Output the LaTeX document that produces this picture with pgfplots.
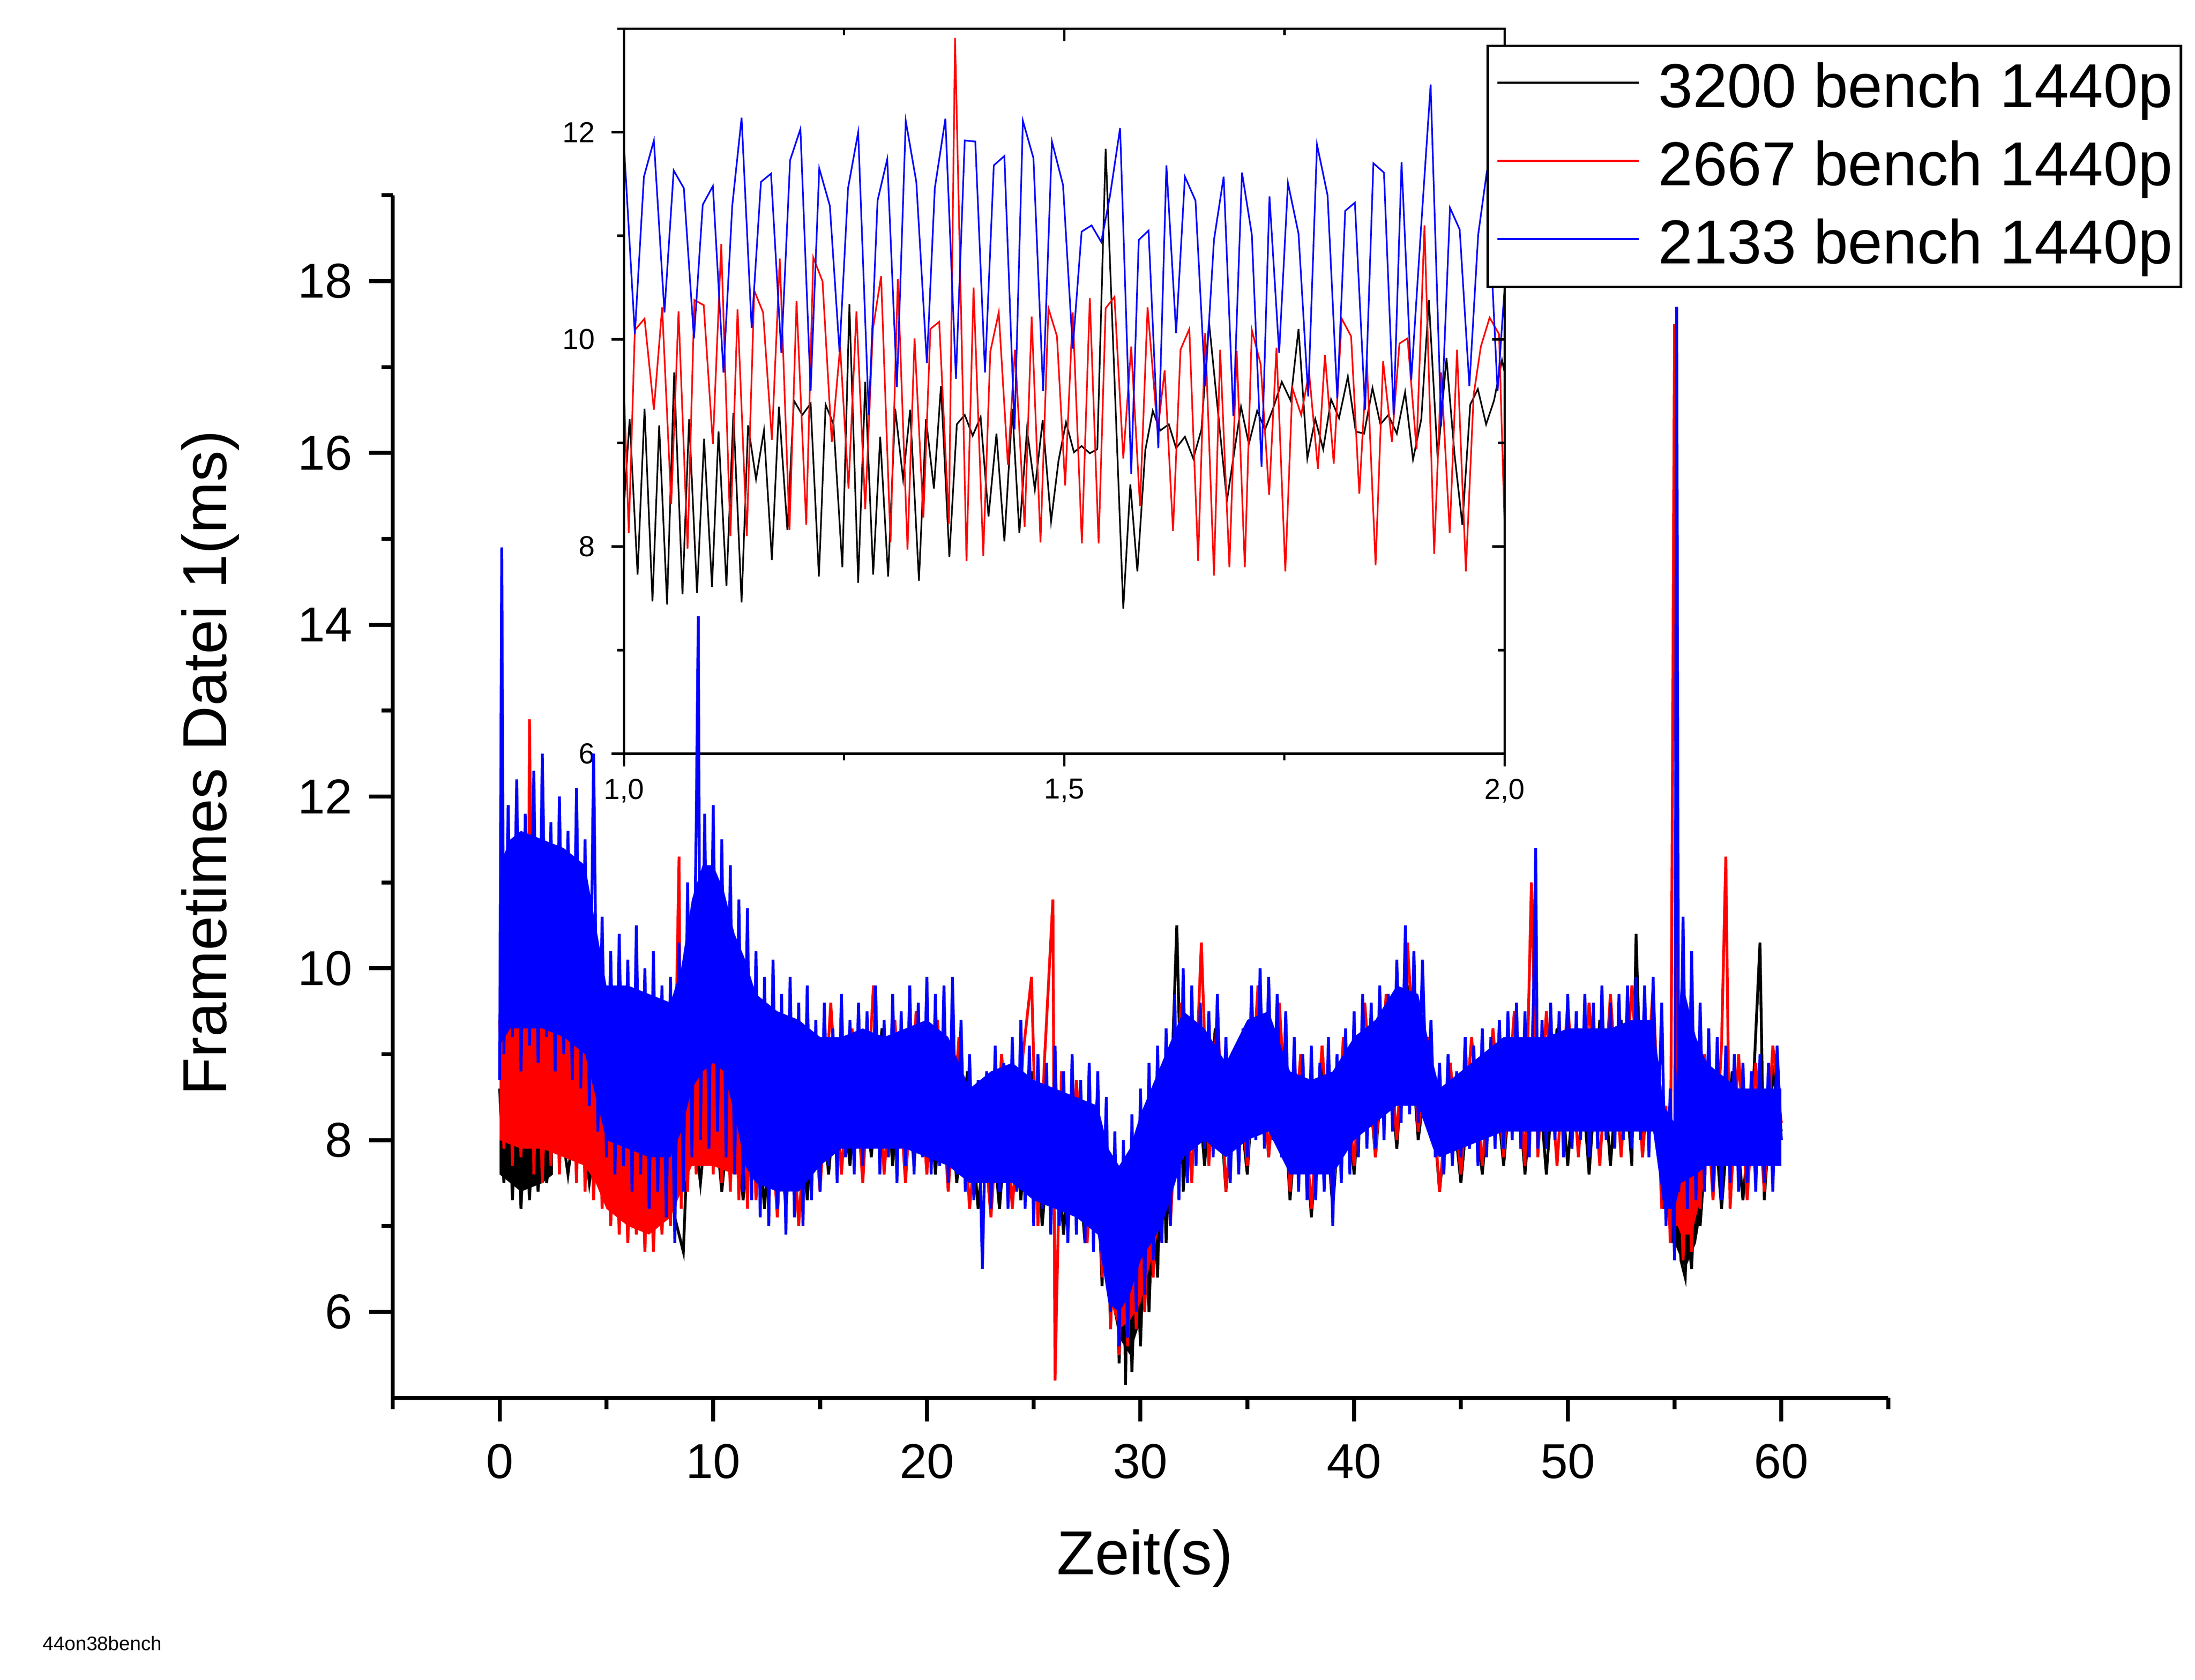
\documentclass[border=0pt]{standalone}
\usepackage{fontspec}
\setmainfont{Liberation Sans}
\usepackage{pgfplots}
\pgfplotsset{compat=1.18}
\begin{document}
\begin{tikzpicture}
\path[use as bounding box] (0,0) rectangle (470.4pt,360pt);

% ---------- inset ----------
\begin{axis}[
  at={(133.71pt,198.48pt)}, anchor=south west,
  width=188.73pt, height=155.4pt, scale only axis,
  xmin=1, xmax=2, ymin=6, ymax=13,
  xtick={1,1.5,2}, minor xtick={1.25,1.75},
  ytick={6,8,10,12}, minor ytick={7,9,11,13},
  xtick pos=left, ytick pos=left,
  tick align=outside,
  major tick length=2.7pt, minor tick length=1.4pt,
  axis line style={line width=0.5pt},
  tick style={line width=0.5pt, black},
  /pgf/number format/assume math mode=true,
  tick label style={font=\fontsize{6.2}{7}\selectfont},
  x tick label style={yshift=0.8pt, /pgf/number format/.cd, use comma, fixed, fixed zerofill, precision=1, /tikz/.cd},
  clip=true,
]
\addplot[black, line width=0.35pt] coordinates {
(1.0,8.39)(1.0065,9.23)(1.0155,7.73)(1.0234,9.33)(1.0324,7.47)(1.040,9.17)(1.049,7.44)(1.057,9.68)(1.0665,7.54)(1.074,9.23)(1.083,7.55)(1.091,9.04)(1.100,7.61)(1.1074,9.11)(1.1164,7.62)(1.1243,9.29)(1.1336,7.46)(1.141,9.17)(1.150,8.65)(1.159,9.12)(1.168,7.87)(1.176,9.35)(1.1856,8.16)(1.193,9.41)(1.2025,9.27)(1.212,9.38)(1.2214,7.71)(1.229,9.37)(1.238,9.18)(1.248,7.80)(1.256,10.34)(1.266,7.65)(1.274,9.59)(1.283,7.73)(1.291,9.06)(1.300,7.71)(1.308,9.33)(1.317,8.65)(1.325,9.32)(1.335,7.67)(1.343,9.23)(1.352,8.56)(1.360,9.55)(1.3695,7.90)(1.378,9.18)(1.387,9.27)(1.396,9.07)(1.405,9.25)(1.414,8.29)(1.423,9.09)(1.432,8.05)(1.441,9.33)(1.449,8.13)(1.4577,9.13)(1.4666,8.55)(1.4755,9.22)(1.485,8.24)(1.4935,8.83)(1.502,9.20)(1.511,8.91)(1.5197,8.97)(1.529,8.90)(1.5375,8.94)(1.547,11.84)(1.567,7.40)(1.575,8.6)(1.583,7.76)(1.592,8.93)(1.6005,9.31)(1.609,9.12)(1.6187,9.18)(1.627,8.95)(1.637,9.06)(1.6465,8.85)(1.6558,9.13)(1.6643,10.17)(1.6847,8.44)(1.7007,9.35)(1.7096,8.99)(1.719,9.31)(1.728,9.13)(1.737,9.33)(1.747,9.59)(1.757,9.41)(1.766,10.10)(1.776,8.85)(1.785,9.23)(1.794,8.94)(1.803,9.42)(1.812,9.24)(1.822,9.64)(1.831,9.11)(1.8405,9.09)(1.850,9.53)(1.859,9.18)(1.868,9.27)(1.8776,9.09)(1.887,9.49)(1.896,8.84)(1.9054,9.23)(1.914,10.38)(1.924,8.85)(1.934,9.82)(1.943,8.90)(1.952,8.21)(1.961,9.37)(1.9696,9.52)(1.979,9.18)(1.988,9.41)(1.997,9.80)(2.0,9.68)
};
\addplot[red, line width=0.35pt] coordinates {
(1.0,9.53)(1.0055,8.13)(1.0124,10.09)(1.0234,10.20)(1.034,9.32)(1.0434,10.31)(1.0537,8.41)(1.062,10.27)(1.0723,7.98)(1.080,10.38)(1.0906,10.33)(1.101,8.99)(1.1105,10.92)(1.1209,8.10)(1.129,10.29)(1.1395,8.10)(1.148,10.47)(1.158,10.26)(1.168,9.03)(1.177,10.78)(1.188,8.16)(1.196,10.37)(1.207,8.21)(1.215,10.79)(1.2255,10.56)(1.236,9.01)(1.2455,9.93)(1.255,8.56)(1.264,10.27)(1.274,8.36)(1.2827,10.10)(1.292,10.61)(1.3027,8.04)(1.311,10.58)(1.322,7.97)(1.330,10.01)(1.340,8.28)(1.348,10.10)(1.358,10.17)(1.369,8.22)(1.376,12.91)(1.389,7.86)(1.397,10.50)(1.408,7.91)(1.416,9.88)(1.4256,10.26)(1.436,8.79)(1.444,9.90)(1.455,8.19)(1.463,10.22)(1.473,8.04)(1.482,10.30)(1.4917,10.03)(1.501,8.59)(1.5096,10.26)(1.520,8.03)(1.529,10.40)(1.539,8.03)(1.547,10.30)(1.557,10.41)(1.567,8.85)(1.576,9.93)(1.586,8.39)(1.5946,10.31)(1.606,9.11)(1.614,9.70)(1.6235,8.15)(1.632,9.90)(1.642,10.10)(1.652,7.86)(1.660,10.06)(1.670,7.72)(1.677,9.90)(1.6875,7.80)(1.6958,9.89)(1.705,7.80)(1.713,10.09)(1.723,9.76)(1.7326,8.50)(1.741,9.92)(1.751,7.76)(1.759,9.53)(1.769,9.27)(1.778,9.68)(1.788,8.75)(1.796,9.85)(1.806,8.80)(1.815,10.20)(1.8257,10.03)(1.835,8.51)(1.8435,9.80)(1.8535,7.82)(1.862,9.79)(1.872,9.01)(1.8806,9.96)(1.8898,10.01)(1.900,8.94)(1.909,11.10)(1.920,7.93)(1.928,9.68)(1.9377,8.13)(1.946,9.90)(1.956,7.76)(1.9648,9.46)(1.973,9.93)(1.983,10.21)(1.9937,10.05)(2.0,8.19)
};
\addplot[blue, line width=0.35pt] coordinates {
(1.000,11.88)(1.0124,10.05)(1.0227,11.57)(1.034,11.92)(1.046,10.26)(1.0565,11.63)(1.068,11.46)(1.0795,10.01)(1.0895,11.30)(1.101,11.48)(1.113,9.68)(1.123,11.29)(1.1336,12.14)(1.145,10.11)(1.1556,11.52)(1.167,11.60)(1.1787,9.87)(1.1887,11.73)(1.2004,12.03)(1.212,9.50)(1.2218,11.65)(1.2338,11.29)(1.2448,9.88)(1.2545,11.46)(1.266,12.00)(1.278,9.27)(1.288,11.34)(1.299,11.74)(1.310,9.54)(1.320,12.11)(1.332,11.52)(1.344,9.77)(1.353,11.46)(1.365,12.13)(1.377,9.62)(1.387,11.92)(1.399,11.91)(1.410,9.68)(1.420,11.68)(1.432,11.77)(1.4435,9.13)(1.453,12.11)(1.465,11.75)(1.476,9.50)(1.486,11.91)(1.4986,11.49)(1.5096,9.91)(1.5197,11.04)(1.531,11.10)(1.542,10.94)(1.552,11.39)(1.5634,12.04)(1.576,8.70)(1.5846,10.96)(1.5957,11.05)(1.6068,8.95)(1.616,11.68)(1.627,10.06)(1.637,11.57)(1.649,11.34)(1.660,9.55)(1.670,10.96)(1.681,11.57)(1.692,9.26)(1.7018,11.61)(1.713,11.01)(1.724,8.77)(1.733,11.38)(1.744,9.87)(1.754,11.51)(1.766,11.02)(1.777,9.45)(1.787,11.88)(1.799,11.39)(1.810,9.43)(1.819,11.24)(1.830,11.32)(1.8416,9.32)(1.851,11.70)(1.863,11.61)(1.874,9.27)(1.883,11.71)(1.894,9.61)(1.905,11.06)(1.916,12.46)(1.928,9.16)(1.938,11.27)(1.949,11.06)(1.960,9.55)(1.970,11.01)(1.980,11.63)(1.992,9.50)(2.0,10.5)
};
\end{axis}

% inset: inward ticks on top and right
\begin{axis}[
  at={(133.71pt,198.48pt)}, anchor=south west,
  width=188.73pt, height=155.4pt, scale only axis,
  xmin=1, xmax=2, ymin=6, ymax=13,
  xtick={1,1.5,2}, minor xtick={1.25,1.75},
  ytick={6,8,10,12}, minor ytick={7,9,11,13},
  xtick pos=right, ytick pos=right,
  tick align=inside,
  major tick length=2.7pt, minor tick length=1.4pt,
  axis line style={line width=0.5pt},
  tick style={line width=0.5pt, black},
  xticklabels={}, yticklabels={},
]
\end{axis}

% ---------- main axis ----------
\begin{axis}[
  at={(84.18pt,60.45pt)}, anchor=south west,
  width=320.46pt, height=257.7pt, scale only axis,
  xmin=-5, xmax=65, ymin=5, ymax=19,
  axis lines*=left,
  tick align=outside,
  xtick={0,10,20,30,40,50,60}, minor xtick={-5,5,15,25,35,45,55,65},
  ytick={6,8,10,12,14,16,18}, minor ytick={7,9,11,13,15,17,19},
  major tick length=5.1pt, minor tick length=2.4pt,
  axis line style={line width=0.85pt},
  tick style={line width=0.85pt, black},
  /pgf/number format/assume math mode=true,
  tick label style={font=\fontsize{10.5}{12}\selectfont},
  x tick label style={yshift=-1.3pt},
  xlabel={Zeit(s)}, ylabel={Frametimes Datei 1(ms)},
  label style={font=\fontsize{13.3}{15}\selectfont},
  xlabel style={at={(axis description cs:0.503,-0.1468)}, anchor=base},
  ylabel style={at={(axis description cs:-0.1113,0.528)}, anchor=base},
  legend style={at={(axis description cs:0.7315,1.1251)}, anchor=north west,
    draw=black, line width=0.5pt, fill=white,
    inner xsep=1.8pt, inner ysep=3.5pt, row sep=5.6pt, column sep=4.0pt,
    font=\fontsize{13.3}{15}\selectfont,
    nodes={inner sep=0pt}, cells={anchor=west}},
  legend image code/.code={\draw[#1, line width=0.45pt] (0pt,1.2pt) -- (30.3pt,1.2pt);},
]
% black: dense core (visible parts) and frame-to-frame swing
\addplot[black, fill=black, draw=none, forget plot] coordinates {(0,8.0)(1,7.9)(2,8.0)(2.5,8.0)(2.5,7.6)(2,7.5)(1,7.4)(0,7.6)};
\addplot[black, fill=black, draw=none, forget plot] coordinates {(28.5,7.0)(29,6.6)(29.5,6.3)(30,6.5)(30.5,7.0)(31,7.5)(31,6.9)(30.5,6.4)(30,5.9)(29.5,5.5)(29,5.7)(28.5,6.3)};
\addplot[black, fill=black, draw=none, forget plot] coordinates {(55,7.2)(55.5,7.0)(56,7.4)(56.2,7.6)(56.2,7.1)(56,6.8)(55.5,6.5)(55,6.8)};
\addplot[black, line width=0.6pt] coordinates {
(0,8.6)(0.2,7.5)(0.4,8.7)(0.6,7.3)(0.8,8.5)(1.0,7.2)(1.2,8.3)(1.4,7.3)(1.6,8.4)(1.8,7.4)(2.0,8.2)(2.2,7.5)
(2.7,8.5)(3.2,7.6)(3.7,8.6)(4.2,7.5)(4.7,8.4)(5.2,7.3)(5.7,8.2)(6.2,7.1)(6.7,8.1)(7.2,7.0)(7.7,8.3)(8.2,7.1)(8.6,6.7)(8.9,8.6)(9.4,7.5)(9.9,8.8)(10.4,7.4)(10.9,8.7)(11.4,7.3)(11.9,8.8)(12.4,7.2)(12.9,8.9)(13.4,7.2)(13.9,9.0)(14.4,7.3)(14.9,9.0)(15.4,7.6)(15.9,9.1)(16.4,7.7)(16.9,9.2)(17.4,7.8)(17.9,9.3)(18.4,7.7)(18.9,9.2)(19.4,7.7)(19.9,9.3)(20.4,7.6)(20.9,9.2)(21.4,7.5)(21.9,8.8)(22.4,7.2)(22.9,8.6)(23.4,7.2)(23.9,8.8)(24.4,7.3)(24.9,8.8)(25.4,7.0)(25.9,8.6)(26.4,6.9)(26.9,8.5)(27.4,6.8)(27.9,8.4)
(28.2,6.3)(28.4,7.8)(28.6,5.8)(28.8,7.4)(29.0,5.4)(29.2,7.0)(29.3,5.15)(29.4,6.8)(29.6,5.3)(29.8,6.9)(30.0,5.6)(30.2,7.1)(30.4,6.0)(30.6,7.5)(30.8,6.4)(31.0,8.4)(31.2,6.8)
(31.7,10.5)(32.0,7.4)(32.5,9.3)(33.0,7.7)(33.5,9.3)(34.0,7.4)(34.5,8.8)(35.0,7.6)(35.5,9.6)(36.0,7.8)(36.5,9.4)(37.0,7.3)(37.5,8.9)(38.0,7.1)(38.5,8.9)(39.0,7.2)(39.5,9.0)(40.0,7.6)(40.5,9.3)(41.0,7.8)(41.5,9.4)(42.0,7.9)(42.5,9.8)(43.0,8.0)(43.5,9.0)(44.0,7.4)(44.5,8.7)(45.0,7.5)(45.5,8.9)(46.0,7.6)(46.5,9.0)(47.0,7.7)(47.5,9.2)(48.0,7.6)(48.5,9.2)(49.0,7.6)(49.5,9.3)(50.0,7.7)(50.5,9.3)(51.0,7.6)(51.5,9.4)(52.0,7.7)(52.5,9.4)(53.0,7.7)(53.2,10.4)(53.5,7.8)(54.0,9.5)(54.5,7.2)
(54.7,8.2)(54.9,6.8)(55.1,7.6)(55.3,6.6)(55.5,6.4)(55.6,7.0)(55.8,6.5)(56.0,7.8)(56.2,7.0)
(56.7,8.8)(57.2,7.2)(57.7,8.8)(58.2,7.3)(58.7,8.7)(59.0,10.3)(59.2,7.3)(59.6,8.8)(60.0,8.1)
};
\addlegendentry{3200 bench 1440p}
% red
\addplot[red, fill=red, draw=none, forget plot] coordinates {(0,9.3)(1,9.4)(2,9.4)(3,9.3)(4,9.1)(4.5,8.6)(5,8.1)(6,7.9)(7,7.9)(8,7.9)(8.5,8.4)(9,9.1)(10,9.3)(11,9.0)(11.8,8.4)(11.8,7.6)(11,7.6)(10,7.7)(9,7.7)(8.5,7.4)(8,7.1)(7,6.9)(6,7.0)(5,7.2)(4.5,7.5)(4,7.7)(3,7.8)(2,7.9)(1,7.9)(0,8.0)};
\addplot[red, fill=red, draw=none, forget plot] coordinates {(28,8.0)(28.5,7.3)(29,6.8)(29.5,6.7)(30,6.8)(30.5,7.4)(31,8.0)(31.5,8.5)(31.5,7.4)(31,7.1)(30.5,6.6)(30,6.1)(29.5,5.9)(29,5.8)(28.5,6.2)(28,6.9)};
\addplot[red, fill=red, draw=none, forget plot] coordinates {(54.5,8.2)(55,7.6)(55.3,7.8)(55.8,7.6)(56.2,8.2)(56.5,8.5)(56.5,7.6)(56.2,7.3)(55.8,6.9)(55.3,6.9)(55,7.1)(54.5,7.4)};
\addplot[red, line width=0.6pt] coordinates {
(0,9.4)(0.2,7.9)(0.4,9.6)(0.6,7.7)(0.8,9.9)
(1.0,7.8)(1.2,9.5)(1.3,7.9)(1.4,12.9)(1.6,7.6)(1.8,9.3)
(2.0,7.5)(2.2,9.2)(2.4,7.7)(2.6,9.6)(2.8,7.6)
(3.0,9.4)(3.2,7.8)(3.4,9.1)(3.6,7.5)(3.8,9.5)
(4.0,7.4)(4.2,9.0)(4.4,7.3)(4.6,8.8)(4.8,7.2)
(5.0,8.5)(5.2,7.0)(5.4,8.3)(5.6,6.9)(5.8,8.4)
(6.0,6.8)(6.2,8.1)(6.4,6.9)(6.6,8.3)(6.8,6.7)
(7.0,8.2)(7.2,6.7)(7.4,8.0)(7.6,6.9)(7.8,8.1)
(8.0,7.0)(8.2,8.5)(8.4,11.3)(8.5,7.2)(8.6,8.9)(8.8,7.4)
(9.0,9.3)(9.2,7.6)(9.4,9.5)(9.6,7.7)(9.8,9.2)
(10.0,7.6)(10.2,9.4)(10.4,7.5)(10.6,9.0)(10.8,7.4)
(11.0,9.1)(11.2,7.3)(11.4,9.2)(11.6,7.2)(11.8,9.0)
(12.0,7.3)(12.5,9.1)(13.0,7.1)(13.5,9.2)(14.0,7.0)(14.5,9.0)(15.0,7.4)(15.5,9.6)(16.0,7.6)(16.5,9.3)(17.0,7.5)(17.5,9.8)(18.0,7.6)(18.5,9.4)(19.0,7.5)(19.5,9.5)(20.0,7.6)(20.5,9.4)(21.0,7.4)(21.5,9.2)(22.0,7.2)(22.5,8.6)(23.0,7.1)(23.5,9.0)(24.0,7.2)(24.5,9.0)(24.9,9.9)(25.2,7.0)(25.5,8.9)(25.9,10.8)(26.0,5.2)(26.3,8.8)(26.6,6.9)(27.0,8.7)(27.5,6.8)(28.0,8.6)
(28.2,6.4)(28.4,8.0)(28.6,5.8)(28.8,7.6)(29.0,5.5)(29.2,7.4)(29.4,5.6)(29.6,7.2)(29.8,5.8)(30.0,7.0)(30.2,6.0)(30.4,7.6)(30.6,6.4)(30.8,8.6)(31.0,6.8)(31.2,9.0)(31.4,7.0)
(31.9,9.6)(32.4,7.5)(32.85,10.3)(33.2,7.7)(33.6,9.5)(34.0,7.4)(34.5,9.0)(35.0,7.7)(35.5,9.8)(36.0,7.8)(36.5,9.6)(37.0,7.4)(37.5,9.0)(38.0,7.2)(38.5,9.1)(39.0,7.3)(39.5,9.2)(40.0,7.7)(40.5,9.6)(41.0,7.8)(41.5,9.7)(42.0,8.0)(42.5,10.3)(43.0,8.1)(43.5,9.2)(44.0,7.4)(44.5,8.9)(45.0,7.6)(45.5,9.2)(46.0,7.7)(46.5,9.3)(47.0,7.8)(47.5,9.5)(48.0,7.7)(48.3,11.0)(48.6,7.8)(49.0,9.5)(49.5,7.7)(50.0,9.6)(50.5,7.8)(51.0,9.6)(51.5,7.7)(52.0,9.7)(52.5,7.8)(53.0,9.8)(53.5,7.8)(54.0,9.8)(54.4,7.2)
(54.6,8.4)(54.8,6.8)(55.0,17.5)(55.1,7.0)(55.2,8.2)(55.4,6.6)(55.6,7.9)(55.8,6.7)(56.0,8.4)(56.2,7.2)(56.4,9.0)
(56.8,7.3)(57.2,9.1)(57.4,11.3)(57.6,7.2)(58.0,9.0)(58.4,7.3)(58.8,8.9)(59.2,7.4)(59.6,9.1)(60.0,8.2)
};
\addlegendentry{2667 bench 1440p}
% blue
\addplot[blue, fill=blue, draw=none, forget plot] coordinates {
(0,11.2)(0.5,11.5)(1,11.6)(2,11.5)(3,11.4)(4,11.2)(4.5,10.5)(5,9.8)(6,9.8)(7,9.7)(8,9.6)(8.5,10.0)(9,10.8)(9.5,11.2)(10,11.2)(10.5,10.9)(11,10.4)(11.5,10.1)(12,9.7)(13,9.5)(14,9.4)(15,9.2)(16,9.2)(17,9.3)(18,9.2)(19,9.3)(20,9.4)(21,9.2)(22,8.6)(23,8.8)(24,8.9)(25,8.7)(26,8.6)(27,8.5)(28,8.4)(28.5,7.9)(29,7.7)(29.5,7.9)(30,8.3)(30.5,8.6)(31,8.9)(32,9.5)(33,9.3)(34,8.9)(35,9.4)(36,9.5)(37,8.8)(38,8.7)(39,8.8)(40,9.2)(41,9.4)(42,9.8)(43,9.7)(43.7,8.9)(44,8.6)(45,8.8)(46,9.0)(47,9.2)(48,9.2)(49,9.2)(50,9.3)(51,9.3)(52,9.3)(53,9.4)(54,9.4)(54.5,8.4)(55,8.2)(55.3,9.9)(56,9.2)(56.5,8.9)(57,8.8)(58,8.6)(59,8.6)(60,8.6)
(60,7.7)(59,7.7)(58,7.7)(57,7.7)(56.5,7.7)(56,7.6)(55.3,7.5)(55,7.2)(54.5,7.2)(54,8.1)(53,8.1)(52,8.1)(51,8.1)(50,8.1)(49,8.1)(48,8.1)(47,8.1)(46,8.0)(45,7.9)(44,7.8)(43.7,7.9)(43,8.4)(42,8.4)(41,8.2)(40,8.0)(39,7.6)(38,7.6)(37,7.6)(36,8.1)(35,8.0)(34,7.8)(33,8.0)(32,7.8)(31,7.0)(30.5,6.8)(30,6.6)(29.5,6.2)(29,6.0)(28.5,6.1)(28,6.9)(27,7.1)(26,7.2)(25,7.3)(24,7.5)(23,7.5)(22,7.5)(21,7.7)(20,7.8)(19,7.9)(18,7.9)(17,7.9)(16,7.9)(15,7.7)(14,7.4)(13,7.4)(12,7.5)(11.5,7.7)(11,8.3)(10.5,8.8)(10,8.9)(9.5,8.8)(9,8.6)(8.5,8.1)(8,7.8)(7,7.8)(6,7.9)(5,8.0)(4.5,8.5)(4,9.0)(3,9.2)(2,9.3)(1,9.3)(0.5,9.3)(0,9.1)
};
\addplot[blue, line width=0.6pt] coordinates {
(0,8.7)(0.1,14.9)(0.2,9.0)(0.4,11.9)(0.6,9.2)(0.8,12.2)
(1.0,8.8)(1.2,11.8)(1.4,9.1)(1.6,12.3)(1.8,8.9)
(2.0,12.5)(2.2,9.2)(2.4,11.7)(2.6,8.8)(2.8,12.0)
(3.0,9.0)(3.2,11.6)(3.4,8.7)(3.6,12.1)(3.8,8.6)
(4.0,11.5)(4.2,8.4)(4.4,12.5)(4.6,8.1)(4.8,10.6)
(5.0,7.8)(5.2,10.2)(5.4,7.6)(5.6,10.4)(5.8,7.7)
(6.0,10.1)(6.2,7.4)(6.4,10.5)(6.6,7.6)(6.8,10.0)
(7.0,7.2)(7.2,10.2)(7.4,7.4)(7.6,9.8)(7.8,7.1)
(8.0,9.9)(8.2,6.8)(8.4,10.3)(8.6,7.4)(8.8,11.0)
(9.0,7.8)(9.2,11.6)(9.3,14.1)(9.4,8.0)(9.6,11.8)(9.8,7.9)
(10.0,11.9)(10.2,8.1)(10.4,11.5)(10.6,7.8)(10.8,11.2)
(11.0,7.6)(11.2,10.8)(11.4,7.4)(11.6,10.7)(11.8,7.3)
(12.0,10.2)(12.2,7.1)(12.4,9.9)(12.6,7.0)(12.8,10.1)
(13.0,7.2)(13.2,9.7)(13.4,6.9)(13.6,9.9)(13.8,7.1)
(14.0,9.6)(14.2,7.0)(14.4,9.8)(14.6,7.3)(14.8,9.4)
(15.0,7.4)(15.2,9.6)(15.4,7.7)(15.6,9.3)(15.8,7.5)
(16.0,9.7)(16.2,7.8)(16.4,9.4)(16.6,7.6)(16.8,9.6)
(17.0,7.7)(17.2,9.5)(17.4,7.9)(17.6,9.8)(17.8,7.6)
(18.0,9.4)(18.2,7.8)(18.4,9.7)(18.6,7.5)(18.8,9.5)
(19.0,7.7)(19.2,9.8)(19.4,7.6)(19.6,9.6)(19.8,7.8)
(20.0,9.9)(20.2,7.6)(20.4,9.7)(20.6,7.7)(20.8,9.8)
(21.0,7.5)(21.2,9.9)(21.4,7.6)(21.6,9.4)(21.8,7.4)
(22.0,9.0)(22.2,7.3)(22.4,8.7)(22.6,6.5)(22.8,8.8)
(23.0,7.2)(23.2,9.1)(23.4,7.4)(23.6,8.9)(23.8,7.2)
(24.0,9.2)(24.2,7.4)(24.4,9.4)(24.6,7.2)(24.8,9.1)
(25.0,7.0)(25.2,9.0)(25.4,7.2)(25.6,8.9)(25.8,6.9)
(26.0,9.1)(26.2,7.0)(26.4,8.8)(26.6,6.8)(26.8,9.0)
(27.0,6.9)(27.2,8.7)(27.4,6.8)(27.6,8.9)(27.8,6.7)
(28.0,8.8)(28.2,6.6)(28.4,8.5)(28.6,6.0)(28.8,8.1)
(29.0,5.6)(29.2,8.0)(29.4,5.7)(29.6,8.3)(29.8,6.0)
(30.0,8.6)(30.2,6.2)(30.4,8.9)(30.6,6.6)(30.8,9.1)
(31.0,6.8)(31.2,9.3)(31.4,7.0)(31.6,9.7)(31.8,7.3)
(32.0,10.0)(32.2,7.5)(32.4,9.8)(32.6,7.7)(32.8,9.6)
(33.0,7.9)(33.2,9.5)(33.4,7.8)(33.6,9.7)(33.8,7.9)
(34.0,9.2)(34.2,7.5)(34.4,8.9)(34.6,7.6)(34.8,9.3)
(35.0,7.8)(35.2,9.8)(35.4,8.0)(35.6,10.0)(35.8,7.9)
(36.0,9.9)(36.2,8.0)(36.4,9.7)(36.6,7.8)(36.8,9.5)
(37.0,7.6)(37.2,9.2)(37.4,7.4)(37.6,9.0)(37.8,7.3)
(38.0,9.1)(38.2,7.3)(38.4,8.9)(38.6,7.4)(38.8,9.2)
(39.0,7.0)(39.2,9.0)(39.4,7.5)(39.6,9.3)(39.8,7.6)
(40.0,9.5)(40.2,7.8)(40.4,9.7)(40.6,7.9)(40.8,9.6)
(41.0,7.9)(41.2,9.8)(41.4,8.0)(41.6,9.7)(41.8,8.1)
(42.0,10.1)(42.2,8.2)(42.4,10.5)(42.6,8.3)(42.8,10.2)
(43.0,8.2)(43.2,10.1)(43.4,8.4)(43.6,9.4)(43.8,7.8)
(44.0,8.9)(44.2,7.6)(44.4,9.0)(44.6,7.7)(44.8,8.8)
(45.0,7.8)(45.2,9.2)(45.4,7.9)(45.6,9.1)(45.8,7.7)
(46.0,9.3)(46.2,7.8)(46.4,9.2)(46.6,7.9)(46.8,9.4)
(47.0,7.9)(47.2,9.5)(47.4,8.0)(47.6,9.6)(47.8,7.9)
(48.0,9.5)(48.2,7.8)(48.4,9.7)(48.5,11.4)(48.6,7.9)(48.8,9.4)
(49.0,7.9)(49.2,9.6)(49.4,8.0)(49.6,9.5)(49.8,7.8)
(50.0,9.7)(50.2,7.9)(50.4,9.5)(50.6,8.0)(50.8,9.7)
(51.0,7.8)(51.2,9.6)(51.4,7.9)(51.6,9.8)(51.8,8.0)
(52.0,9.6)(52.2,7.9)(52.4,9.7)(52.6,8.0)(52.8,9.8)
(53.0,7.9)(53.2,9.9)(53.4,8.0)(53.6,9.8)(53.8,7.8)
(54.0,9.9)(54.2,7.9)(54.4,9.6)(54.6,7.0)(54.8,8.6)
(55.0,6.6)(55.1,17.7)(55.2,7.4)(55.4,10.6)(55.6,7.2)(55.8,10.2)
(56.0,7.3)(56.2,9.6)(56.4,7.4)(56.6,9.3)(56.8,7.4)
(57.0,9.2)(57.2,7.3)(57.4,9.1)(57.6,7.5)(57.8,9.0)
(58.0,7.4)(58.2,8.9)(58.4,7.5)(58.6,8.8)(58.8,7.4)
(59.0,9.0)(59.2,7.5)(59.4,8.9)(59.6,7.4)(59.8,9.1)
(60.0,8.0)
};
\addlegendentry{2133 bench 1440p}
\end{axis}

\node[anchor=base west, inner sep=0pt, font=\fontsize{4.2}{5}\selectfont] at (9pt,6.3pt) {44on38bench};
\end{tikzpicture}
\end{document}
